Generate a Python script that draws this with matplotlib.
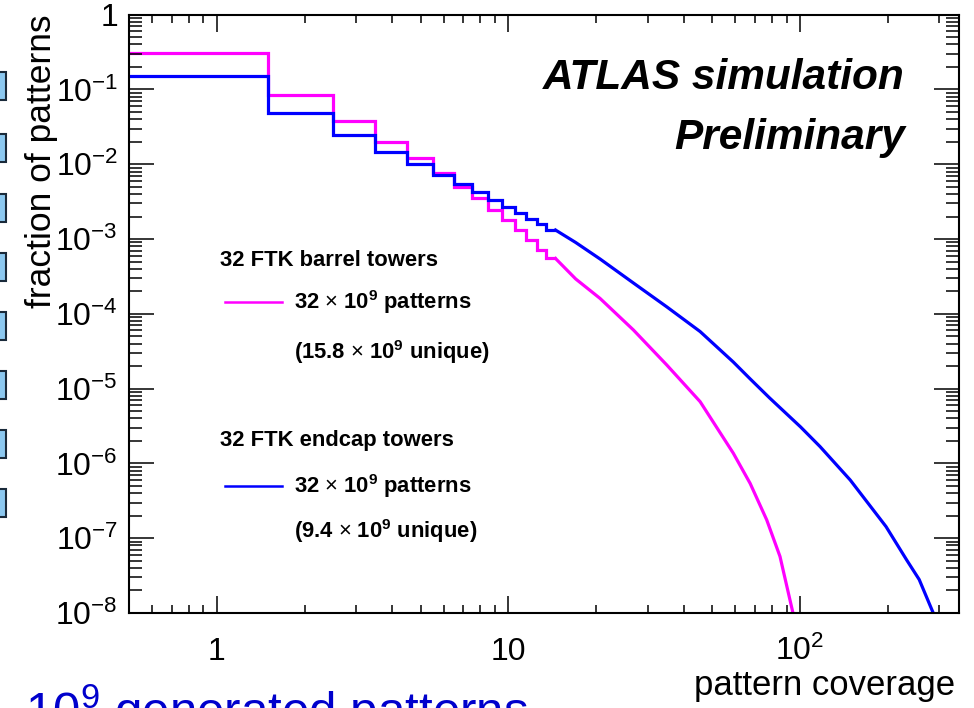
import numpy as np
import matplotlib
matplotlib.use("Agg")
import matplotlib.pyplot as plt
from matplotlib.ticker import FixedLocator, FixedFormatter, LogLocator, NullFormatter
from matplotlib.patches import Rectangle

plt.rcParams['font.family'] = ['Liberation Sans', 'DejaVu Sans']
plt.rcParams['mathtext.fontset'] = 'custom'
plt.rcParams['mathtext.rm'] = 'Liberation Sans'
plt.rcParams['mathtext.it'] = 'Liberation Sans:italic'
plt.rcParams['mathtext.bf'] = 'Liberation Sans:bold'

# coverage histogram, integer bins (edges at n +- 0.5)
bin_coverage = [1, 2, 3, 4, 5, 6, 7, 8, 9, 10, 11, 12, 13, 14]
barrel_frac = [0.305, 0.0844, 0.0383, 0.0200, 0.0120, 0.0076, 0.0050, 0.0035,
               0.00245, 0.0018, 0.00132, 0.00097, 0.000715, 0.00055]
endcap_frac = [0.150, 0.0481, 0.0247, 0.0147, 0.0101, 0.0072, 0.0054, 0.0042,
               0.00333, 0.00271, 0.00221, 0.00184, 0.00158, 0.00132]

# tail of the distributions (bins too narrow to see individually)
barrel_tail_x = [17, 20.6, 26.8, 34.9, 45.4, 59.0, 67.4, 76.8, 85.3, 94.5]
barrel_tail_y = [2.93e-4, 1.61e-4, 6.1e-5, 2.07e-5, 6.7e-6, 1.37e-6, 5.4e-7,
                 1.76e-7, 5.7e-8, 1.0e-8]
endcap_tail_x = [17, 20.6, 26.8, 34.9, 45.4, 59.0, 67.4, 78.6, 100.3, 117,
                 148.5, 197, 232, 256, 286]
endcap_tail_y = [9.0e-4, 5.42e-4, 2.59e-4, 1.24e-4, 5.8e-5, 2.27e-5, 1.35e-5,
                 7.5e-6, 3.08e-6, 1.68e-6, 6.0e-7, 1.43e-7, 5.1e-8, 2.8e-8, 1.0e-8]

ytick_vals = [1e-8, 1e-7, 1e-6, 1e-5, 1e-4, 1e-3, 1e-2, 1e-1, 1]
ytick_labels = ['10$^{-8}$', '10$^{-7}$', '10$^{-6}$', '10$^{-5}$', '10$^{-4}$',
                '10$^{-3}$', '10$^{-2}$', '10$^{-1}$', '1']
xtick_vals = [1, 10, 100]
xtick_labels = ['1', '10', '10$^{2}$']

magenta = '#ff00ff'
blue = '#0000ff'

fig = plt.figure(figsize=(9.74, 7.08), dpi=100)
ax = fig.add_axes([129 / 974, 1 - 613 / 708, 830 / 974, 598.3 / 708])

edges = np.append(np.array(bin_coverage) - 0.5, bin_coverage[-1] + 0.5)
ax.stairs(barrel_frac, edges, baseline=None, color=magenta, lw=2.3)
ax.stairs(endcap_frac, edges, baseline=None, color=blue, lw=2.3)
ax.plot([edges[-1]] + barrel_tail_x, [barrel_frac[-1]] + barrel_tail_y,
        color=magenta, lw=2.3, solid_joinstyle='round')
ax.plot([edges[-1]] + endcap_tail_x, [endcap_frac[-1]] + endcap_tail_y,
        color=blue, lw=2.3, solid_joinstyle='round')

ax.set_xscale('log')
ax.set_yscale('log')
ax.set_xlim(0.5, 350.5)
ax.set_ylim(1e-8, 1)

ax.xaxis.set_major_locator(FixedLocator(xtick_vals))
ax.xaxis.set_major_formatter(FixedFormatter(xtick_labels))
ax.xaxis.set_minor_locator(LogLocator(base=10, subs=np.arange(2, 10), numticks=50))
ax.xaxis.set_minor_formatter(NullFormatter())
ax.yaxis.set_major_locator(FixedLocator(ytick_vals))
ax.yaxis.set_major_formatter(FixedFormatter(ytick_labels))
ax.yaxis.set_minor_locator(LogLocator(base=10, subs=np.arange(2, 10), numticks=50))
ax.yaxis.set_minor_formatter(NullFormatter())

ax.tick_params(which='both', direction='in', top=True, right=True, width=1.1,
               labelsize=23, colors='black')
ax.tick_params(axis='x', which='major', length=12, pad=34)
ax.tick_params(axis='x', which='minor', length=6)
ax.tick_params(axis='y', which='major', length=18, pad=8)
ax.tick_params(axis='y', which='minor', length=9.4)
plt.setp(ax.get_xticklabels(), va='baseline')
for s in ax.spines.values():
    s.set_linewidth(1.5)

ax.set_ylabel('fraction of patterns', fontsize=25.5, loc='top')
ax.yaxis.set_label_coords(-0.085, 1.0)
ax.set_xlabel('pattern coverage', fontsize=25, loc='right')
ax.xaxis.set_label_coords(0.995, -0.094)

fig.text(905 / 974, 1 - 78 / 708, 'ATLAS simulation', ha='right', va='center',
         fontsize=30.5, fontweight='bold', fontstyle='italic')
fig.text(905 / 974, 1 - 138 / 708, 'Preliminary', ha='right', va='center',
         fontsize=30.5, fontweight='bold', fontstyle='italic')

# legend block
lab = dict(fontsize=15.8, fontweight='bold', va='center')
fig.text(220 / 974, 1 - 260 / 708, '32 FTK barrel towers', **lab)
fig.text(294 / 974, 1 - 302 / 708, r'32 $\times$ 10$^{\mathbf{9}}$ patterns', **lab)
fig.text(294 / 974, 1 - 352 / 708, r'(15.8 $\times$ 10$^{\mathbf{9}}$ unique)', **lab)
fig.text(220 / 974, 1 - 440 / 708, '32 FTK endcap towers', **lab)
fig.text(294 / 974, 1 - 486 / 708, r'32 $\times$ 10$^{\mathbf{9}}$ patterns', **lab)
fig.text(294 / 974, 1 - 531 / 708, r'(9.4 $\times$ 10$^{\mathbf{9}}$ unique)', **lab)
fig.add_artist(plt.Line2D([225 / 974, 282 / 974], [1 - 302 / 708] * 2,
                          color=magenta, lw=1.8))
fig.add_artist(plt.Line2D([225 / 974, 282 / 974], [1 - 486 / 708] * 2,
                          color=blue, lw=1.8))

# slide bullets and caption at the edges
for yc in [86, 148, 208, 267, 326, 385, 444, 503]:
    fig.add_artist(Rectangle((-8 / 974, 1 - (yc + 14) / 708), 14 / 974, 28 / 708,
                             facecolor='#8cc8f0', edgecolor='#1a2a3a', lw=1.5))
fig.text(25 / 974, -0.027, r'10$^{9}$ generated patterns', color='#0000cc',
         fontsize=35.5, va='baseline', ha='left')

fig.savefig('out.png', dpi=100)
